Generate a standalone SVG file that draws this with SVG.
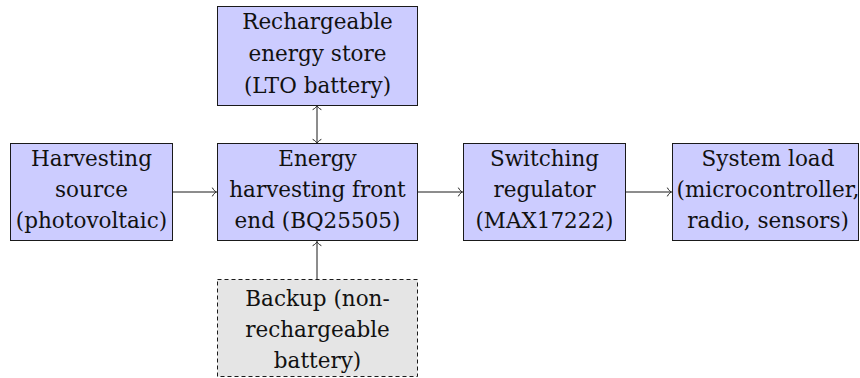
<svg xmlns="http://www.w3.org/2000/svg" width="860" height="378" viewBox="0 0 860 378">
<style>
.box{fill:#ccccff;stroke:#1a1a1a;stroke-width:1}
.bk{fill:#e5e5e5;stroke:#1a1a1a;stroke-width:1;stroke-dasharray:4 3}
text{font-family:"DejaVu Serif","Liberation Serif",serif;font-size:21.5px;fill:#111;text-anchor:middle}
.c{stroke:#1a1a1a;stroke-width:1;fill:none}
</style>
<defs>
<marker id="to" viewBox="-5 -5 7 10" refX="0.5" refY="0" markerWidth="7" markerHeight="10" markerUnits="userSpaceOnUse" orient="auto-start-reverse">
<path d="M-3.5,-4 C-2.5,-1.8 -0.5,-0.4 0.5,0 C-0.5,0.4 -2.5,1.8 -3.5,4" fill="none" stroke="#1a1a1a" stroke-width="1" stroke-linecap="round"/>
</marker>
</defs>
<g id="connectors">
<line class="c" x1="172" y1="192" x2="216.5" y2="192" marker-end="url(#to)"/>
<line class="c" x1="417" y1="192" x2="462.5" y2="192" marker-end="url(#to)"/>
<line class="c" x1="626" y1="192" x2="671.5" y2="192" marker-end="url(#to)"/>
<line class="c" x1="317" y1="105.5" x2="317" y2="143.5" marker-start="url(#to)" marker-end="url(#to)"/>
<line class="c" x1="317" y1="279" x2="317" y2="241.5" marker-end="url(#to)"/>
</g>
<g id="harvesting-source">
<rect class="box" x="10.5" y="143.5" width="162" height="97"/>
<text x="91.5" y="166">Harvesting</text>
<text x="91.5" y="197">source</text>
<text x="91.5" y="228">(photovoltaic)</text>
</g>
<g id="energy-store">
<rect class="box" x="217.5" y="6.5" width="200" height="99"/>
<text x="317.5" y="29">Rechargeable</text>
<text x="317.5" y="61">energy store</text>
<text x="317.5" y="93">(LTO battery)</text>
</g>
<g id="front-end">
<rect class="box" x="217.5" y="143.5" width="200" height="97"/>
<text x="317.5" y="166">Energy</text>
<text x="317.5" y="197">harvesting front</text>
<text x="317.5" y="228">end (BQ25505)</text>
</g>
<g id="backup">
<rect class="bk" x="217.5" y="279.5" width="200" height="97"/>
<text x="317.5" y="306">Backup (non-</text>
<text x="317.5" y="337">rechargeable</text>
<text x="317.5" y="368">battery)</text>
</g>
<g id="regulator">
<rect class="box" x="463.5" y="143.5" width="162" height="97"/>
<text x="544.5" y="166">Switching</text>
<text x="544.5" y="197">regulator</text>
<text x="544.5" y="228">(MAX17222)</text>
</g>
<g id="system-load">
<rect class="box" x="672.5" y="143.5" width="186" height="97"/>
<text x="768" y="166">System load</text>
<text x="768" y="197">(microcontroller,</text>
<text x="768" y="228">radio, sensors)</text>
</g>
</svg>
